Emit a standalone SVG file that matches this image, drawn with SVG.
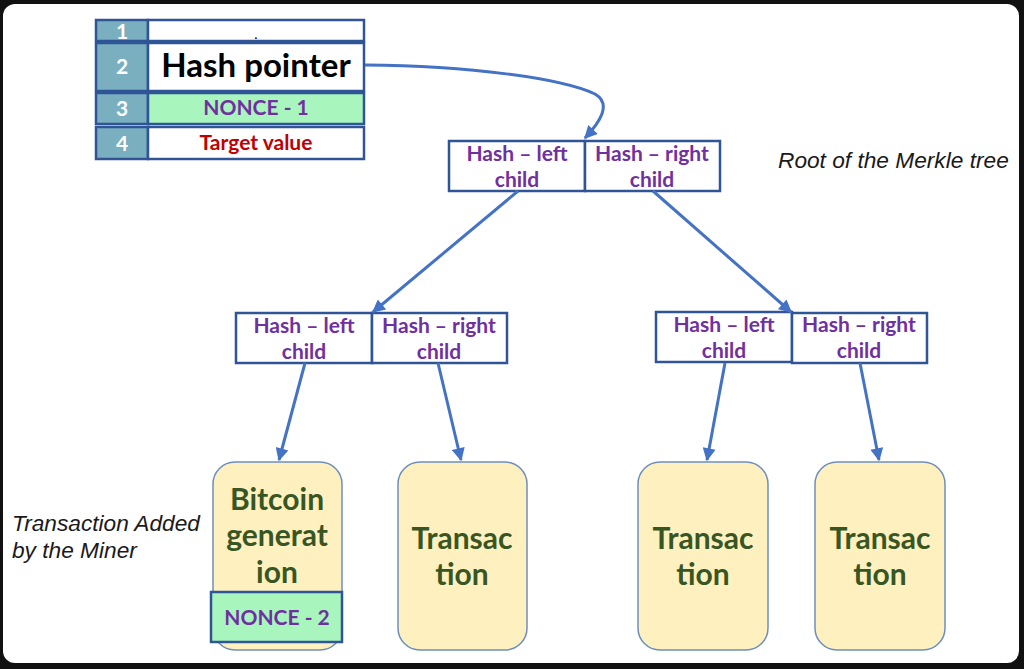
<svg xmlns="http://www.w3.org/2000/svg" width="1024" height="669" viewBox="0 0 1024 669">
<style>
.hb{fill:#fff;stroke:#2f5597;stroke-width:2.5}
.hp{font-family:Lato,"Open Sans",sans-serif;font-weight:bold;font-size:21px;fill:#7030a0;text-anchor:middle}
.leaf{fill:#fff0c0;stroke:#6d8ebf;stroke-width:1.5}
.lt{font-family:Lato,"Open Sans",sans-serif;font-weight:bold;font-size:30px;fill:#375623;text-anchor:middle}
.num{fill:#79afbe;stroke:#2f5597;stroke-width:2.5}
.nt{font-family:Lato,"Open Sans",sans-serif;font-weight:bold;font-size:21px;fill:#fff;text-anchor:middle}
.cell{fill:#fff;stroke:#2f5597;stroke-width:2.5}
.green{fill:#a9f5be;stroke:#2f5597;stroke-width:2.5}
.it{font-family:"Liberation Sans",Arial,sans-serif;font-style:italic;font-size:22.7px;fill:#1a1a1a}
.conn{fill:none;stroke:#4472c4;stroke-width:3;marker-end:url(#ah)}
</style>
<defs>
<marker id="ah" viewBox="0 0 10 10" refX="9" refY="5" markerWidth="15" markerHeight="13" markerUnits="userSpaceOnUse" orient="auto">
<path d="M0,0 L10,5 L0,10 z" fill="#4472c4"/>
</marker>
</defs>
<rect x="0" y="0" width="1024" height="669" fill="#111"/>
<rect x="3" y="4" width="1016" height="659" rx="12" fill="#fff"/>

<g id="block-header">
<rect class="num" x="96" y="20" width="52" height="21"/>
<rect class="cell" x="148" y="20" width="216" height="21"/>
<text class="nt" x="122" y="39">1</text>
<text x="256" y="39" font-family="Lato,sans-serif" font-size="14" text-anchor="middle" fill="#000">.</text>
<rect class="num" x="96" y="43" width="52" height="48"/>
<rect class="cell" x="148" y="43" width="216" height="48"/>
<text class="nt" x="122" y="74">2</text>
<text x="256" y="77" font-family="Lato,'Open Sans',sans-serif" font-weight="bold" font-size="33" text-anchor="middle" fill="#000">Hash pointer</text>
<rect class="num" x="96" y="93" width="52" height="31"/>
<rect class="green" x="148" y="93" width="216" height="31"/>
<text class="nt" x="122" y="116">3</text>
<text class="hp" x="256" y="115">NONCE - 1</text>
<rect class="num" x="96" y="127" width="52" height="32"/>
<rect class="cell" x="148" y="127" width="216" height="32"/>
<text class="nt" x="122" y="151">4</text>
<text class="hp" x="256" y="150" style="fill:#c00000">Target value</text>
</g>

<g id="root">
<rect class="hb" x="449" y="141" width="136" height="50"/>
<rect class="hb" x="585" y="141" width="135" height="50"/>
<text class="hp" x="517" y="161">Hash – left</text>
<text class="hp" x="517" y="187">child</text>
<text class="hp" x="652" y="161">Hash – right</text>
<text class="hp" x="652" y="187">child</text>
</g>
<g id="root-label"><text class="it" x="778" y="168">Root of the Merkle tree</text></g>

<g id="mid-left">
<rect class="hb" x="236" y="313" width="136" height="50"/>
<rect class="hb" x="372" y="313" width="135" height="50"/>
<text class="hp" x="304" y="333">Hash – left</text>
<text class="hp" x="304" y="359">child</text>
<text class="hp" x="439" y="333">Hash – right</text>
<text class="hp" x="439" y="359">child</text>
</g>

<g id="mid-right">
<rect class="hb" x="656" y="312" width="136" height="50"/>
<rect class="hb" x="792" y="313" width="135" height="50"/>
<text class="hp" x="724" y="332">Hash – left</text>
<text class="hp" x="724" y="358">child</text>
<text class="hp" x="859" y="332">Hash – right</text>
<text class="hp" x="859" y="358">child</text>
</g>

<g id="leaf1">
<rect class="leaf" x="213" y="462" width="129" height="188" rx="22"/>
<text class="lt" x="277" y="510">Bitcoin</text>
<text class="lt" x="277" y="546">generat</text>
<text class="lt" x="277" y="583">ion</text>
<rect class="green" x="211" y="592" width="131" height="50"/>
<text class="hp" x="277" y="625">NONCE - 2</text>
</g>
<g id="miner-label">
<text class="it" x="12" y="531">Transaction Added</text>
<text class="it" x="12" y="558">by the Miner</text>
</g>

<g id="leaf2">
<rect class="leaf" x="398" y="462" width="129" height="188" rx="22"/>
<text class="lt" x="462" y="549">Transac</text>
<text class="lt" x="462" y="585">tion</text>
</g>
<g id="leaf3">
<rect class="leaf" x="638" y="462" width="130" height="188" rx="22"/>
<text class="lt" x="703" y="549">Transac</text>
<text class="lt" x="703" y="585">tion</text>
</g>
<g id="leaf4">
<rect class="leaf" x="815" y="462" width="130" height="188" rx="22"/>
<text class="lt" x="880" y="549">Transac</text>
<text class="lt" x="880" y="585">tion</text>
</g>

<g id="connectors">
<path class="conn" d="M365,65 C470,66 560,78 595,94 C612,104 600,122 585,138"/>
<path class="conn" d="M518,191 L373,312"/>
<path class="conn" d="M653,191 L791,312"/>
<path class="conn" d="M305,363 L279,460"/>
<path class="conn" d="M438,363 L461,460"/>
<path class="conn" d="M725,363 L707,460"/>
<path class="conn" d="M860,363 L879,460"/>
</g>
</svg>
